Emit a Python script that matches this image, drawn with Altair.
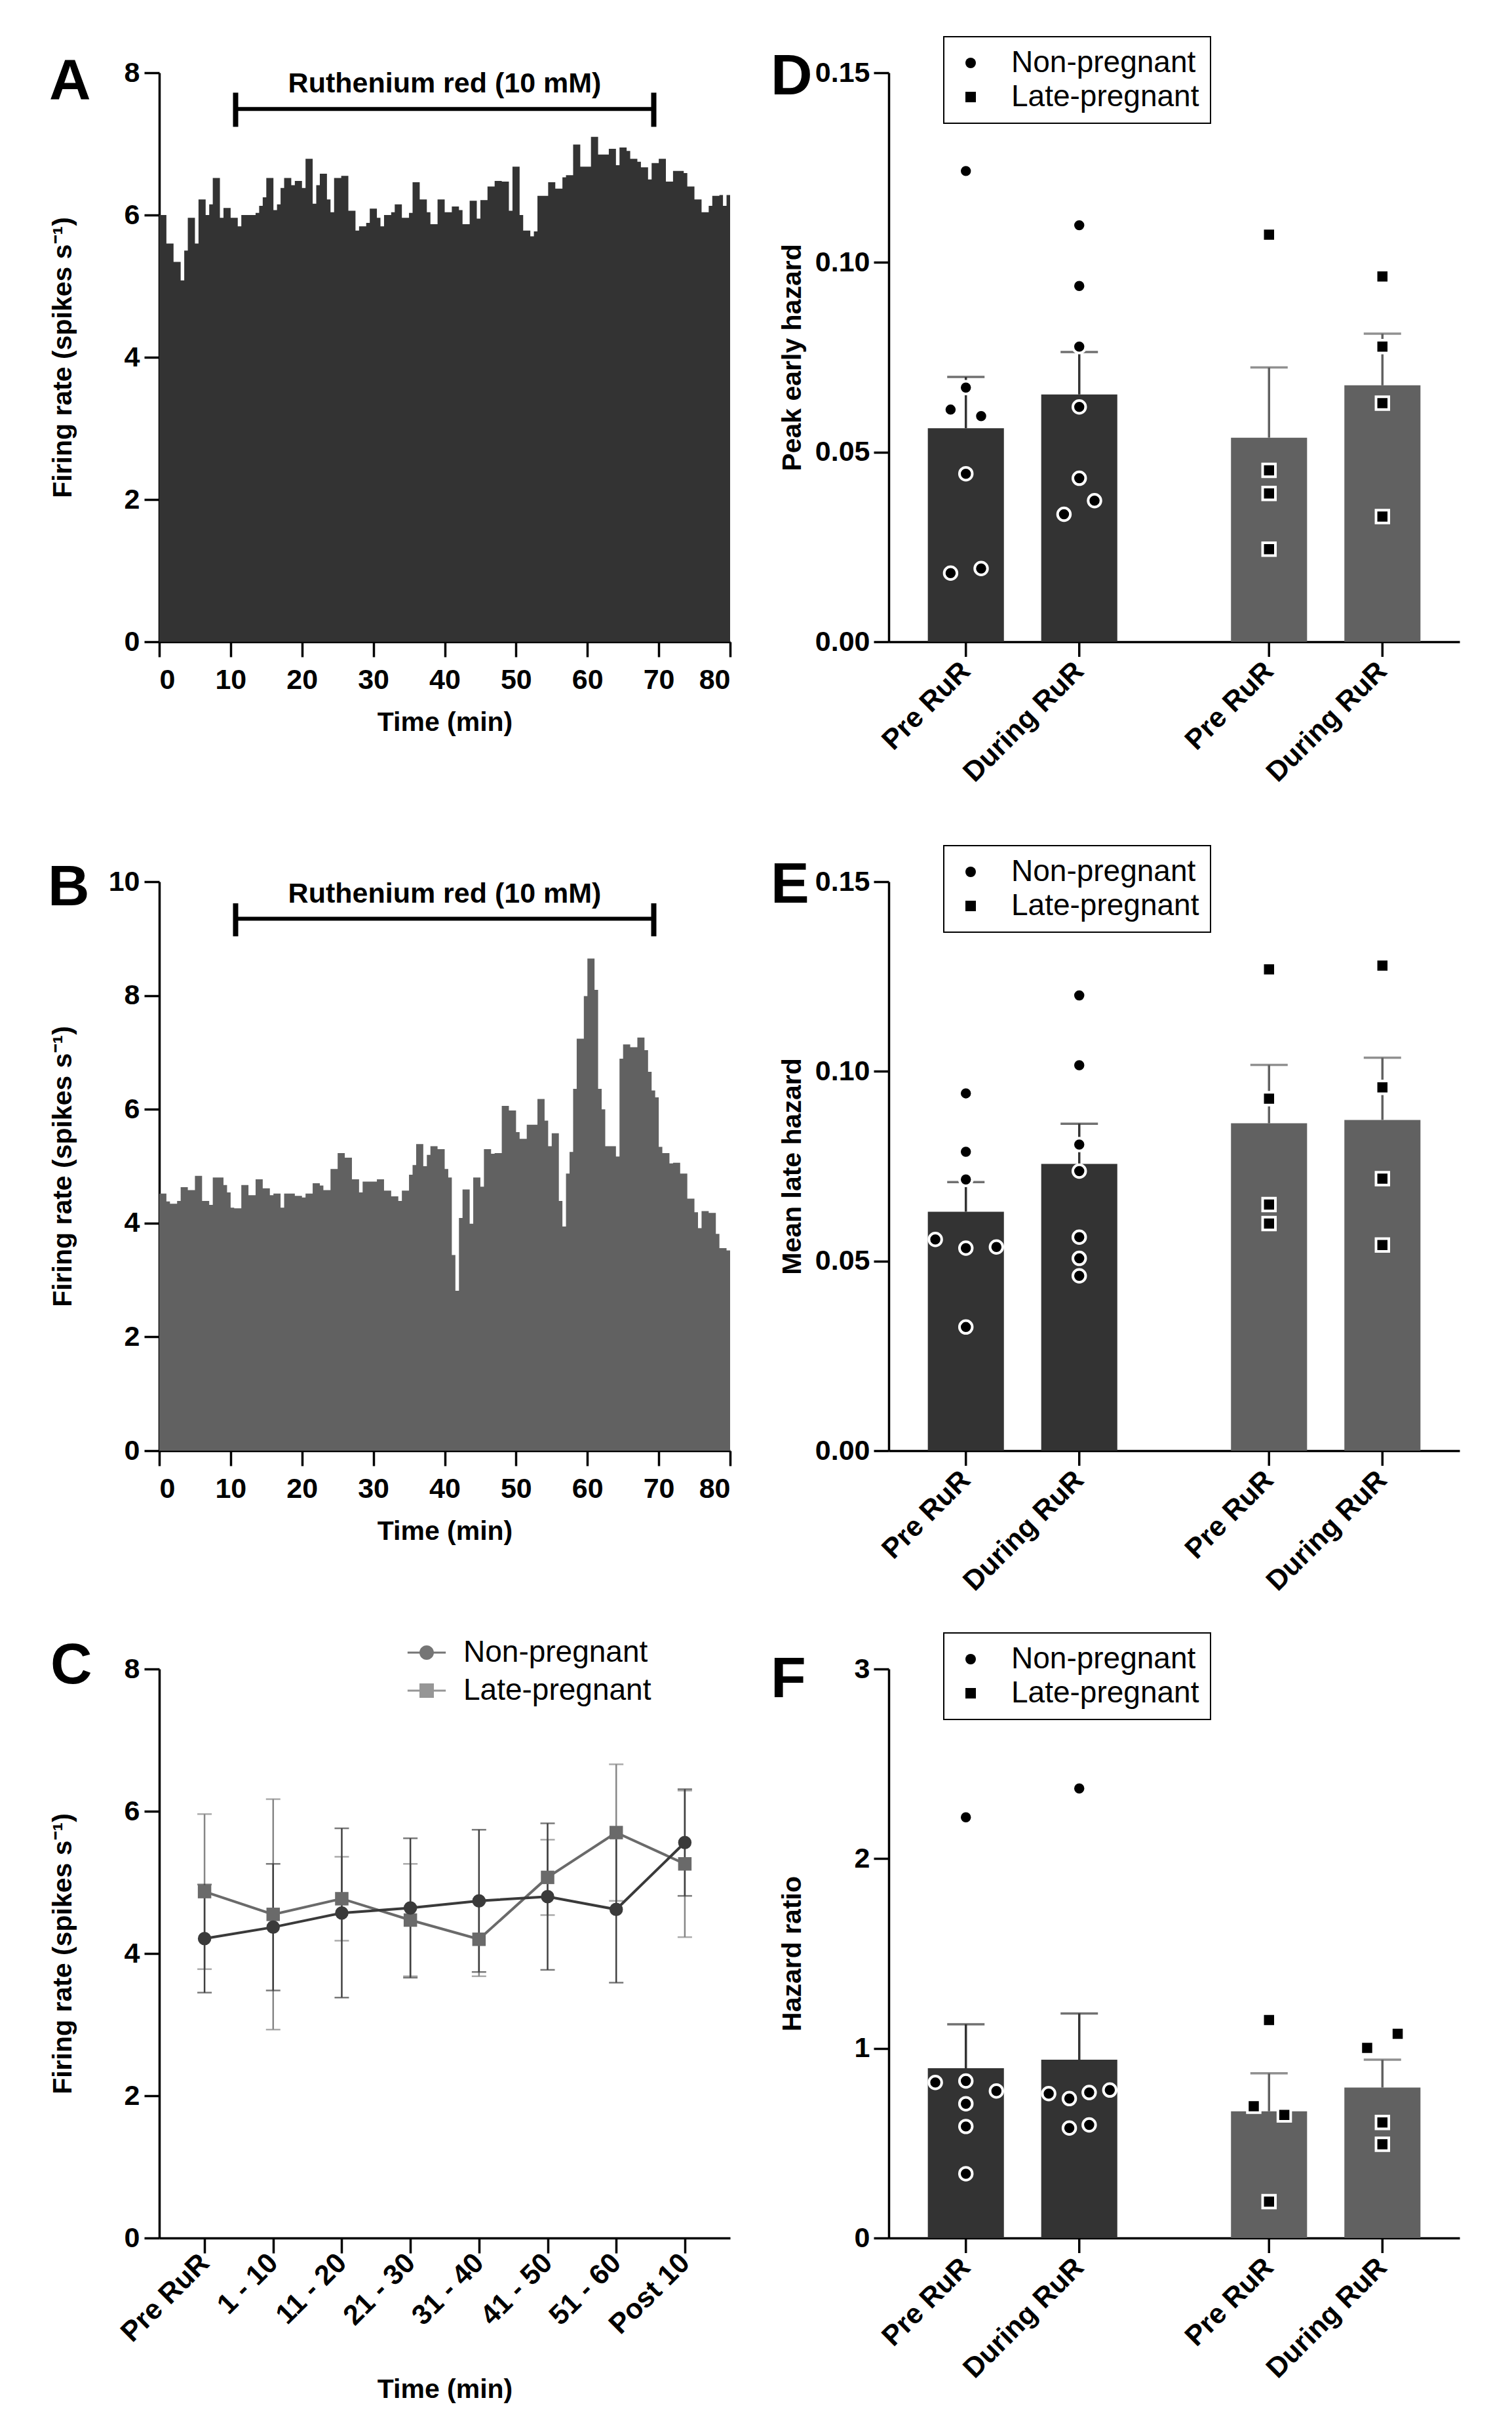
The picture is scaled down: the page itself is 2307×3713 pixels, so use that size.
import altair as alt
import pandas as pd

FONT = "Liberation Sans"
DARK = "#333333"
GRAY = "#616161"
LINE_NP = "#3a3a3a"
LINE_LP = "#6a6a6a"
ERR_NP = "#404040"
ERR_LP = "#868686"

W, H = 871, 868
EXTRA = 33  # extra room above the middle row

# ---------------- Panels A / B : firing-rate histograms (0.5-min bins) ----------------
BIN_MIN = 0.5
hist_a = [6.00, 6.00, 5.60, 5.60, 5.34, 5.34, 5.08, 5.50, 5.96, 5.96,
          5.60, 6.22, 6.22, 6.00, 6.15, 6.52, 6.52, 5.96, 6.10, 6.10,
          5.96, 5.96, 5.84, 6.00, 6.00, 6.00, 6.00, 6.03, 6.13, 6.25,
          6.52, 6.52, 6.07, 6.15, 6.38, 6.52, 6.52, 6.42, 6.48, 6.48,
          6.38, 6.79, 6.79, 6.16, 6.42, 6.58, 6.58, 6.22, 6.04, 6.52,
          6.52, 6.55, 6.55, 6.06, 6.06, 5.78, 5.84, 5.84, 5.89, 6.09,
          6.09, 5.96, 5.84, 6.00, 6.00, 6.04, 6.15, 6.15, 5.96, 5.96,
          6.03, 6.46, 6.46, 6.22, 6.22, 6.04, 5.87, 5.87, 6.22, 6.22,
          6.04, 6.04, 6.12, 6.12, 6.07, 5.87, 5.87, 6.20, 6.20, 5.95,
          6.21, 6.21, 6.40, 6.40, 6.48, 6.48, 6.47, 6.47, 6.06, 6.68,
          6.68, 6.00, 5.78, 5.78, 5.70, 5.77, 6.27, 6.27, 6.27, 6.46,
          6.46, 6.37, 6.37, 6.53, 6.56, 6.56, 6.99, 6.99, 6.68, 6.68,
          6.68, 7.10, 7.10, 6.85, 6.85, 6.85, 6.93, 6.93, 6.70, 6.95,
          6.95, 6.90, 6.79, 6.79, 6.75, 6.67, 6.67, 6.50, 6.73, 6.73,
          6.79, 6.79, 6.47, 6.47, 6.62, 6.62, 6.62, 6.59, 6.40, 6.40,
          6.22, 6.22, 6.04, 6.04, 6.13, 6.27, 6.27, 6.28, 6.13, 6.28]

hist_b = [4.52, 4.52, 4.38, 4.34, 4.34, 4.39, 4.63, 4.63, 4.58, 4.58,
          4.83, 4.83, 4.39, 4.39, 4.32, 4.80, 4.80, 4.80, 4.67, 4.54,
          4.27, 4.26, 4.26, 4.67, 4.67, 4.49, 4.49, 4.77, 4.77, 4.61,
          4.61, 4.49, 4.52, 4.52, 4.27, 4.52, 4.52, 4.52, 4.48, 4.48,
          4.45, 4.52, 4.52, 4.70, 4.70, 4.66, 4.58, 4.58, 4.95, 4.95,
          5.23, 5.23, 5.15, 5.15, 4.77, 4.77, 4.54, 4.73, 4.73, 4.73,
          4.73, 4.77, 4.77, 4.57, 4.57, 4.47, 4.47, 4.39, 4.57, 4.57,
          4.85, 5.02, 5.39, 5.39, 5.00, 5.20, 5.35, 5.35, 5.30, 5.30,
          4.95, 4.80, 3.44, 2.81, 4.09, 4.59, 4.59, 3.99, 4.80, 4.80,
          4.64, 5.30, 5.30, 5.22, 5.23, 5.23, 6.06, 6.06, 5.98, 5.98,
          5.60, 5.48, 5.48, 5.73, 5.73, 5.73, 6.18, 6.18, 5.80, 5.35,
          5.58, 5.58, 4.39, 3.94, 4.87, 5.25, 6.36, 7.24, 7.24, 7.99,
          8.65, 8.65, 8.10, 6.36, 6.00, 5.35, 5.35, 5.35, 5.17, 6.89,
          7.14, 7.14, 7.09, 7.09, 7.26, 7.26, 7.04, 6.66, 6.33, 6.21,
          5.34, 5.23, 5.23, 5.05, 5.06, 5.06, 4.87, 4.87, 4.43, 4.43,
          4.19, 3.91, 4.21, 4.21, 4.18, 4.18, 3.81, 3.56, 3.56, 3.52]

RUR_START, RUR_END = 10.7, 69.3
RUR_LABEL = "Ruthenium red (10 mM)"
FIRING_LABEL = "Firing rate (spikes s\u207b\u00b9)"

# ---------------- Panel C : mean firing rate per period ----------------
time_c = ["Pre RuR", "1 - 10", "11 - 20", "21 - 30", "31 - 40", "41 - 50", "51 - 60", "Post 10"]
np_mean_c = [4.21, 4.37, 4.57, 4.64, 4.74, 4.80, 4.62, 5.56]
np_sem_c = [0.76, 0.89, 1.19, 0.98, 1.00, 1.03, 1.03, 0.75]
lp_mean_c = [4.87, 4.55, 4.77, 4.47, 4.20, 5.07, 5.70, 5.26]
lp_sem_c = [1.09, 1.62, 0.59, 0.79, 0.52, 0.53, 0.96, 1.03]

NP, LP = "Non-pregnant", "Late-pregnant"
PRE, DUR = "Pre RuR", "During RuR"

# ---------------- Panels D / E / F : bars (mean, SEM) + individual cells ----------------
d_mean = [0.0563, 0.0652, 0.0538, 0.0676]
d_sem = [0.0135, 0.0112, 0.0185, 0.0136]
d_np_pre = [0.1241, 0.0670, 0.0612, 0.0595, 0.0443, 0.0181, 0.0193]
d_np_dur = [0.1098, 0.0938, 0.0778, 0.0619, 0.0431, 0.0372, 0.0336]
d_lp_pre = [0.1073, 0.0452, 0.0391, 0.0244]
d_lp_dur = [0.0963, 0.0778, 0.0629, 0.0330]
d_jit = {"np_pre": [0, 0, -1, 1, 0, -1, 1], "np_dur": [0, 0, 0, 0, 0, 1, -1],
         "lp_pre": [0, 0, 0, 0], "lp_dur": [0, 0, 0, 0]}

e_mean = [0.0630, 0.0756, 0.0863, 0.0872]
e_sem = [0.0078, 0.0106, 0.0154, 0.0164]
e_np_pre = [0.0942, 0.0788, 0.0715, 0.0557, 0.0534, 0.0537, 0.0326]
e_np_dur = [0.1200, 0.1016, 0.0807, 0.0737, 0.0563, 0.0507, 0.0461]
e_lp_pre = [0.1269, 0.0928, 0.0649, 0.0599]
e_lp_dur = [0.1279, 0.0958, 0.0717, 0.0542]
e_jit = {"np_pre": [0, 0, 0, -2, 0, 2, 0], "np_dur": [0] * 7,
         "lp_pre": [0] * 4, "lp_dur": [0] * 4}

f_mean = [0.895, 0.940, 0.668, 0.793]
f_sem = [0.232, 0.244, 0.200, 0.147]
f_np_pre = [2.218, 0.820, 0.828, 0.775, 0.708, 0.588, 0.339]
f_np_dur = [2.370, 0.761, 0.735, 0.767, 0.780, 0.580, 0.596]
f_lp_pre = [1.149, 0.695, 0.649, 0.192]
f_lp_dur = [1.002, 1.077, 0.609, 0.494]
f_jit = {"np_pre": [0, -2, 0, 2, 0, 0, 0], "np_dur": [0, -2, -0.65, 0.65, 2, -0.65, 0.65],
         "lp_pre": [0, -1, 1, 0], "lp_dur": [-1, 1, 0, 0]}

# bar-panel band geometry
G_PAD_IN, G_PAD_OUT = 0.375, 0.129
S_PAD_IN = 0.329
G_STEP = W / (2 - G_PAD_IN + 2 * G_PAD_OUT)
G_BW = G_STEP * (1 - G_PAD_IN)
S_STEP = G_BW / (2 - S_PAD_IN)
S_BW = S_STEP * (1 - S_PAD_IN)
JIT_PX = 23.3

TICK_FS = 43
TITLE_FS = 41
LEG_FS = 46
LETTER_FS = 88


def letter_layer(letter, lx, ly):
    return alt.Chart(pd.DataFrame({"letter": [letter]})).mark_text(
        font=FONT, fontSize=LETTER_FS, fontWeight="bold", align="left", baseline="alphabetic", color="black"
    ).encode(text="letter:N", x=alt.value(lx), y=alt.value(ly))


def hist_panel(vals, color, ymax, yticks, br_y, br_lo, br_hi, txt_y, letter, lx, ly, top=0):
    n = len(vals)
    HH = H + top
    df = pd.DataFrame({"t": [i * BIN_MIN for i in range(n)] + [n * BIN_MIN],
                       "rate": list(vals) + [vals[-1]]})
    xscale = alt.Scale(domain=[0, 80], nice=False, zero=False)
    xaxis = alt.Axis(values=list(range(0, 81, 10)), title="Time (min)", titleY=103,
                     titleBaseline="top", labelPadding=14, labelAngle=0)
    yscale = alt.Scale(domain=[0, ymax], nice=False, range=[HH, top])
    yaxis = alt.Axis(values=yticks, title=FIRING_LABEL, titleX=-126, titleY=top + H / 2,
                     titleAngle=270, titleBaseline="bottom", titleAlign="center", labelPadding=7)

    def X(f):
        return alt.X(f, scale=xscale, axis=xaxis)

    def Y(f):
        return alt.Y(f, scale=yscale, axis=yaxis)

    area = alt.Chart(df).mark_area(interpolate="step-after", color=color).encode(x=X("t:Q"), y=Y("rate:Q"))
    br = pd.DataFrame({"x0": [RUR_START], "x1": [RUR_END], "y": [br_y], "lo": [br_lo], "hi": [br_hi],
                       "xm": [(RUR_START + RUR_END) / 2], "ty": [txt_y], "label": [RUR_LABEL]})
    hline = alt.Chart(br).mark_rule(strokeWidth=6, color="black").encode(x=X("x0:Q"), x2="x1:Q", y=Y("y:Q"))
    end0 = alt.Chart(br).mark_rule(strokeWidth=8, color="black").encode(x=X("x0:Q"), y=Y("lo:Q"), y2="hi:Q")
    end1 = alt.Chart(br).mark_rule(strokeWidth=8, color="black").encode(x=X("x1:Q"), y=Y("lo:Q"), y2="hi:Q")
    txt = alt.Chart(br).mark_text(font=FONT, fontSize=43, fontWeight="bold", baseline="middle",
                                  align="center", color="black").encode(x=X("xm:Q"), y=Y("ty:Q"), text="label:N")
    return alt.layer(area, hline, end0, end1, txt, letter_layer(letter, lx, ly + top)).properties(width=W, height=HH)


def panel_c():
    df = pd.DataFrame({"time": time_c * 2,
                       "series": [NP] * 8 + [LP] * 8,
                       "mean": np_mean_c + lp_mean_c,
                       "sem": np_sem_c + lp_sem_c})
    base = alt.Chart(df).transform_calculate(lo="datum.mean - datum.sem", hi="datum.mean + datum.sem")
    xenc = alt.X("time:N", sort=time_c, scale=alt.Scale(type="point", padding=0.66),
                 axis=alt.Axis(labelAngle=315, labelAlign="right", labelBaseline="middle", labelPadding=8,
                               title="Time (min)", titleY=211, titleBaseline="top"))
    yscale = alt.Scale(domain=[0, 8], nice=False)
    yaxis = alt.Axis(values=[0, 2, 4, 6, 8], title=FIRING_LABEL, titleX=-126, titleY=H / 2,
                     titleAngle=270, titleBaseline="bottom", titleAlign="center", labelPadding=7)

    def Y(f):
        return alt.Y(f, scale=yscale, axis=yaxis)

    layers = []
    for s, ec in [(LP, ERR_LP), (NP, ERR_NP)]:
        b = base.transform_filter(alt.datum.series == s)
        layers.append(b.mark_rule(color=ec, strokeWidth=2.5).encode(x=xenc, y=Y("lo:Q"), y2="hi:Q"))
        layers.append(b.mark_tick(color=ec, orient="horizontal", size=22, thickness=2.5).encode(x=xenc, y=Y("lo:Q")))
        layers.append(b.mark_tick(color=ec, orient="horizontal", size=22, thickness=2.5).encode(x=xenc, y=Y("hi:Q")))
    for s, lc, shp in [(LP, LINE_LP, "square"), (NP, LINE_NP, "circle")]:
        b = base.transform_filter(alt.datum.series == s)
        layers.append(b.mark_line(color=lc, strokeWidth=4).encode(x=xenc, y=Y("mean:Q")))
        layers.append(b.mark_point(filled=True, shape=shp, size=420, color=lc, opacity=1).encode(x=xenc, y=Y("mean:Q")))

    path_c = "M-2.65,-0.14L2.65,-0.14L2.65,0.14L-2.65,0.14Z M1,0A1,1 0 1,1 -1,0A1,1 0 1,1 1,0Z"
    path_s = "M-2.65,-0.14L2.65,-0.14L2.65,0.14L-2.65,0.14Z M-1,-1L1,-1L1,1L-1,1Z"
    leg = alt.Legend(orient="none", legendX=385, legendY=-48, title=None, padding=0, rowPadding=12,
                     labelFont=FONT, labelFontSize=LEG_FS, labelColor="black", labelFontWeight="normal",
                     labelLimit=500, symbolSize=484, symbolStrokeWidth=0, labelOffset=33)
    legend_layer = alt.Chart(df).transform_filter("false").mark_point(filled=True, size=484).encode(
        color=alt.Color("series:N", scale=alt.Scale(domain=[NP, LP], range=[LINE_NP, LINE_LP]), legend=leg),
        shape=alt.Shape("series:N", scale=alt.Scale(domain=[NP, LP], range=[path_c, path_s]), legend=leg),
    )
    layers.append(legend_layer)
    layers.append(letter_layer("C", -166, 22))
    return alt.layer(*layers).properties(width=W, height=H)


def bar_panel(means, sems, pts, jits, ylab, ymax, yticks, yfmt, letter, lx, ly, top=0):
    HH = H + top
    bars = pd.DataFrame({"group": [NP, NP, LP, LP], "cond": [PRE, DUR, PRE, DUR],
                         "mean": means, "sem": sems})
    rows = []
    for key, g, c in [("np_pre", NP, PRE), ("np_dur", NP, DUR), ("lp_pre", LP, PRE), ("lp_dur", LP, DUR)]:
        for v, j in zip(pts[key], jits[key]):
            rows.append({"group": g, "cond": c, "value": v, "jit": j})
    pdf = pd.DataFrame(rows)

    xenc = alt.X("group:N", sort=[NP, LP],
                 scale=alt.Scale(type="band", paddingInner=G_PAD_IN, paddingOuter=G_PAD_OUT),
                 axis=alt.Axis(labels=False, ticks=False, title=None))
    xo = alt.XOffset("cond:N", sort=[PRE, DUR],
                     scale=alt.Scale(type="band", paddingInner=S_PAD_IN, paddingOuter=0))
    yscale = alt.Scale(domain=[0, ymax], nice=False, range=[HH, top])
    yaxis = alt.Axis(values=yticks, format=yfmt, title=ylab, titleX=-126, titleY=top + H / 2,
                     titleAngle=270, titleBaseline="bottom", titleAlign="center", labelPadding=6)

    def Y(f):
        return alt.Y(f, scale=yscale, axis=yaxis)

    col = alt.condition(alt.datum.group == NP, alt.value(DARK), alt.value(GRAY))
    bb = alt.Chart(bars).transform_calculate(hi="datum.mean + datum.sem")
    layers = [
        bb.mark_bar().encode(x=xenc, xOffset=xo, y=Y("mean:Q"), color=col),
        bb.mark_rule(strokeWidth=3.5).encode(x=xenc, xOffset=xo, y=Y("mean:Q"), y2="hi:Q", color=col),
        bb.mark_tick(orient="horizontal", size=57, thickness=3.5).encode(x=xenc, xOffset=xo, y=Y("hi:Q"), color=col),
    ]
    leg = alt.Legend(orient="none", legendX=84, legendY=top - 55, title=None, strokeColor="black",
                     padding=17, rowPadding=6, labelFont=FONT, labelFontSize=LEG_FS, labelColor="black",
                     labelFontWeight="normal", labelLimit=500, symbolSize=256, symbolStrokeWidth=0,
                     symbolFillColor="black", symbolOffset=1, labelOffset=39)
    shp = alt.Shape("group:N", scale=alt.Scale(domain=[NP, LP], range=["circle", "square"]), legend=leg)
    off0 = S_BW / 2
    pos_dom = [-off0 / S_STEP, (G_BW - off0) / S_STEP]
    pts_layer = alt.Chart(pdf).transform_calculate(
        pos=f"(datum.cond == '{PRE}' ? 0 : 1) + datum.jit * {JIT_PX / S_STEP}"
    ).mark_point(filled=True, fill="black", stroke="white", strokeWidth=4, size=380, opacity=1).encode(
        x=xenc,
        xOffset=alt.XOffset("pos:Q", scale=alt.Scale(domain=pos_dom, nice=False, zero=False)),
        y=Y("value:Q"), shape=shp)
    layers.append(pts_layer)
    layers.append(bb.mark_rule(strokeWidth=3.5, color="black").encode(
        x=xenc, xOffset=xo, y=alt.value(HH), y2=alt.value(HH + 23)))
    layers.append(bb.mark_text(angle=315, align="right", baseline="middle", font=FONT, fontSize=TICK_FS,
                               fontWeight="bold", color="black").encode(
        x=xenc, xOffset=xo, y=alt.value(HH + 38), text="cond:N"))
    layers.append(letter_layer(letter, lx, ly + top))
    return alt.layer(*layers).resolve_scale(xOffset="independent").properties(width=W, height=HH)


A = hist_panel(hist_a, DARK, 8, [0, 2, 4, 6, 8], 7.49, 7.24, 7.72, 7.84, "A", -168, 40)
B = hist_panel(hist_b, GRAY, 10, [0, 2, 4, 6, 8, 10], 9.35, 9.04, 9.62, 9.78, "B", -170, 36, top=EXTRA)
C = panel_c()

D = bar_panel(d_mean, d_sem, {"np_pre": d_np_pre, "np_dur": d_np_dur, "lp_pre": d_lp_pre, "lp_dur": d_lp_dur},
              d_jit, "Peak early hazard", 0.15, [0, 0.05, 0.10, 0.15], ".2f", "D", -180, 33)
E = bar_panel(e_mean, e_sem, {"np_pre": e_np_pre, "np_dur": e_np_dur, "lp_pre": e_lp_pre, "lp_dur": e_lp_dur},
              e_jit, "Mean late hazard", 0.15, [0, 0.05, 0.10, 0.15], ".2f", "E", -180, 32, top=EXTRA)
F = bar_panel(f_mean, f_sem, {"np_pre": f_np_pre, "np_dur": f_np_dur, "lp_pre": f_lp_pre, "lp_dur": f_lp_dur},
              f_jit, "Hazard ratio", 3, [0, 1, 2, 3], "d", "F", -180, 43)

chart = alt.concat(A, D, B, E, C, F, columns=2, spacing={"row": 333, "column": 242},
                   bounds="flush", align="each").resolve_scale(
    color="independent", shape="independent", x="independent", y="independent"
).resolve_legend(color="independent", shape="independent").properties(
    padding={"left": 65, "top": 47, "right": 20, "bottom": 20}
).configure_axis(
    domainColor="black", domainWidth=3.5, tickColor="black", tickWidth=3.5, tickSize=23,
    labelFont=FONT, labelFontSize=TICK_FS, labelFontWeight="bold", labelColor="black",
    titleFont=FONT, titleFontSize=TITLE_FS, titleFontWeight="bold", titleColor="black", grid=False
).configure_view(stroke=None).configure_legend(strokeWidth=2)

chart.save("out.html", embed_options={"renderer": "svg", "actions": False})
